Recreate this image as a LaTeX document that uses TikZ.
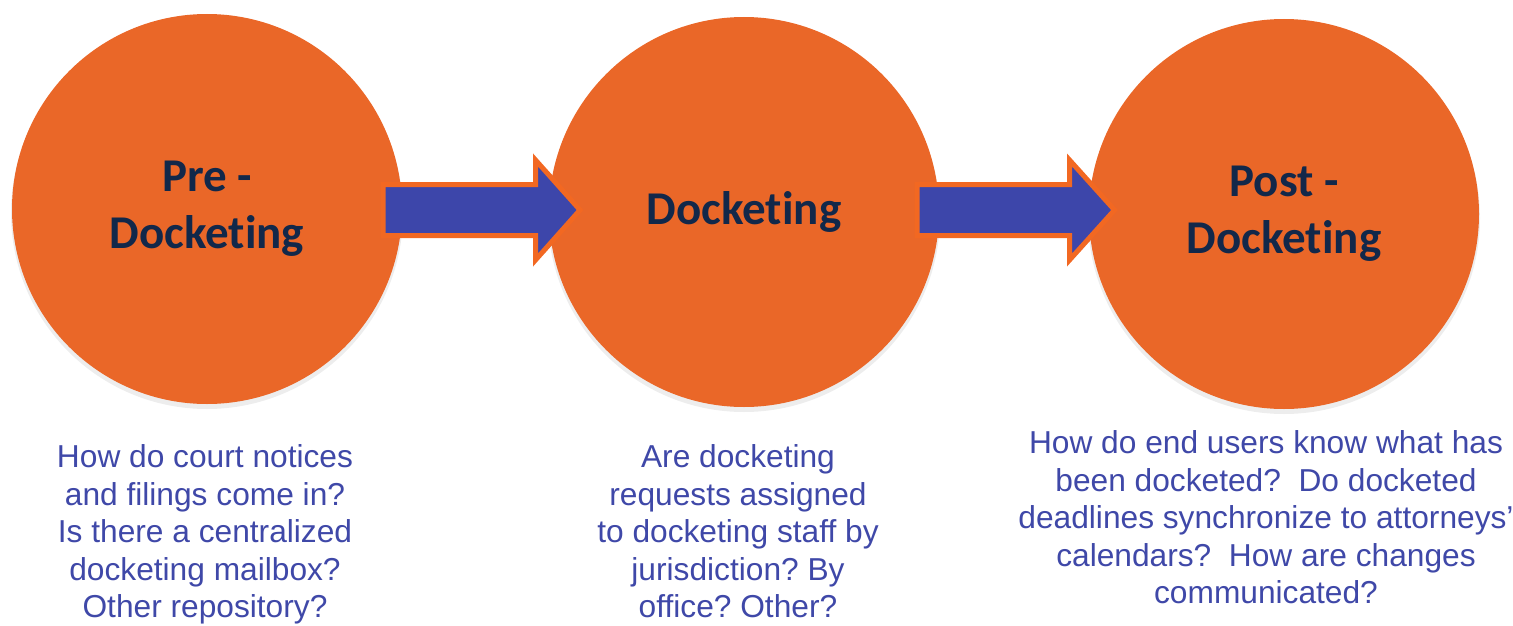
\documentclass[tikz,border=0pt]{standalone}
\usepackage{fontspec}
\setmainfont{Liberation Sans}
\newfontfamily\calib[RawFeature=-liga]{Carlito}
\definecolor{orng}{RGB}{234,103,40}
\definecolor{navy}{RGB}{18,40,74}
\definecolor{arrblue}{RGB}{61,70,170}
\definecolor{arrborder}{RGB}{242,104,34}
\definecolor{txtblue}{RGB}{63,72,168}
\frenchspacing
\tikzset{
  ball/.style={circle, minimum size=390pt, inner sep=0pt, fill=orng,
    font=\calib\bfseries\fontsize{47}{57}\selectfont, text=navy, align=center},
  ballshadow/.style={circle, minimum size=392pt, inner sep=0pt, fill=black, opacity=0.07},
  bigarrow/.style={draw=arrborder, fill=arrblue, line width=5pt, line join=miter},
  question/.style={font=\fontsize{31.7}{37.6}\selectfont, text=txtblue, align=center}
}
\newcommand\fatarrow[3]{% start x, head base x, tip x
  \draw[bigarrow] (#1,184.5) -- (#2,184.5) -- (#2,160) -- (#3,210) -- (#2,260) -- (#2,235.5) -- (#1,235.5) -- cycle;}
\begin{document}
\begin{tikzpicture}[x=1pt,y=-1pt]
\useasboundingbox (0,0) rectangle (1513,626);
% shadows
\node[ballshadow] at (207,213) {};
\node[ballshadow] at (744,216) {};
\node[ballshadow] at (1284,218) {};
% balls
\node[ball] (c1) at (207,209) {Pre -\\Docketing};
\node[ball] (c2) at (744,212) {Docketing};
\node[ball] (c3) at (1284,214) {Post -\\Docketing};
% arrows
\fatarrow{383}{535.5}{580}
\fatarrow{917}{1069.5}{1114.5}
% questions
\node[question, anchor=north] (q1) at (205,441) {How do court notices\\and filings come in?\\Is there a centralized\\docketing mailbox?\\Other repository?};
\node[question, anchor=north] (q2) at (738,441) {Are docketing\\requests assigned\\to docketing staff by\\jurisdiction? By\\office? Other?};
\node[question, anchor=north] (q3) at (1266,427) {How do end users know what has\\been docketed?\ \ Do docketed\\deadlines synchronize to attorneys’\\calendars?\ \ How are changes\\communicated?};
\end{tikzpicture}
\end{document}
